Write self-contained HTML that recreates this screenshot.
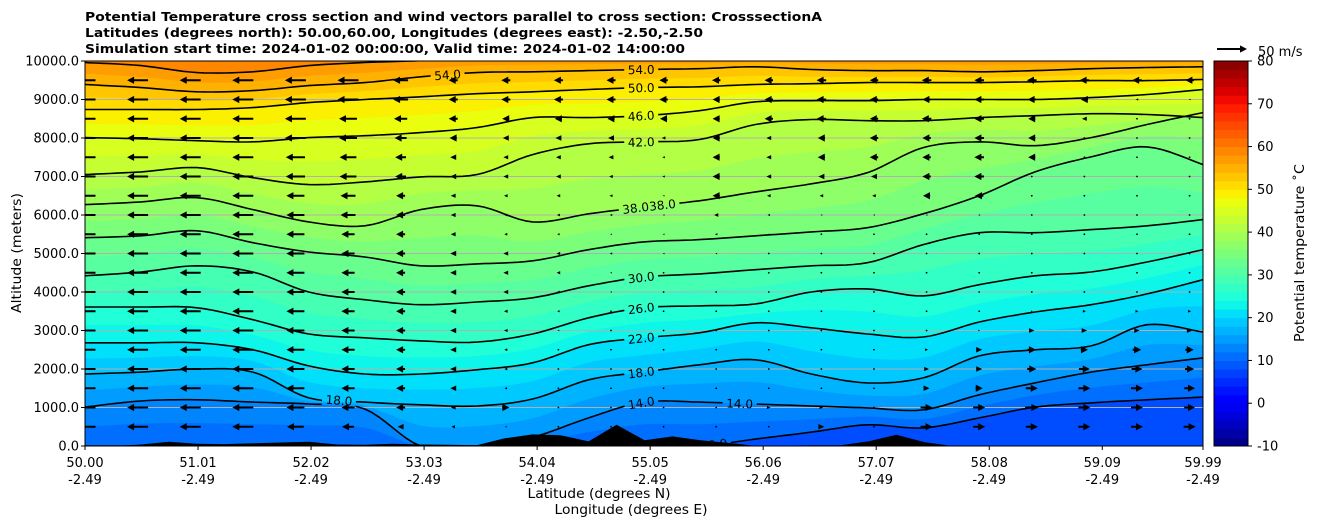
<!DOCTYPE html>
<html><head><meta charset="utf-8"><title>Potential temperature cross section</title>
<style>
html,body{margin:0;padding:0;background:#fff;}
svg{display:block;font-family:"DejaVu Sans","Liberation Sans",sans-serif;}
</style></head>
<body>
<svg id="chart" xmlns="http://www.w3.org/2000/svg" width="1320" height="526" viewBox="0 0 1320 526">
  <defs>
    <clipPath id="plotClip"><rect x="85" y="61" width="1118" height="385"/></clipPath>
    <mask id="labelMask" maskUnits="userSpaceOnUse" x="0" y="0" width="1320" height="526">
      <rect x="0" y="0" width="1320" height="526" fill="#fff"/>
      <g id="maskHoles"></g>
    </mask>
  </defs>
  <g font-weight="bold" font-size="12.5" fill="#000">
    <text x="85" y="21" textLength="737" lengthAdjust="spacingAndGlyphs">Potential Temperature cross section and wind vectors parallel to cross section: CrosssectionA</text>
    <text x="85" y="37" textLength="618" lengthAdjust="spacingAndGlyphs">Latitudes (degrees north): 50.00,60.00, Longitudes (degrees east): -2.50,-2.50</text>
    <text x="85" y="53" textLength="600" lengthAdjust="spacingAndGlyphs">Simulation start time: 2024-01-02 00:00:00, Valid time: 2024-01-02 14:00:00</text>
  </g>
  <g id="plot" clip-path="url(#plotClip)">
    <g id="fills"></g>
    <g id="grid"></g>
    <g id="contours" mask="url(#labelMask)"></g>
    <g id="terrain"></g>
    <g id="arrows"></g>
    <g id="clabels"></g>
  </g>
  <rect x="85" y="61" width="1118" height="385" fill="none" stroke="#000" stroke-width="1"/>
  <g id="yaxis" font-size="13"></g>
  <g id="xaxis" font-size="13"></g>
  <text font-size="13" text-anchor="middle" transform="translate(21,253) rotate(-90)" textLength="120" lengthAdjust="spacingAndGlyphs">Altitude (meters)</text>
  <text font-size="13" text-anchor="middle" x="599" y="498" textLength="143" lengthAdjust="spacingAndGlyphs">Latitude (degrees N)</text>
  <text font-size="13" text-anchor="middle" x="631" y="514" textLength="153" lengthAdjust="spacingAndGlyphs">Longitude (degrees E)</text>
  <g id="cbar" font-size="13"></g>
  <text font-size="13" text-anchor="middle" transform="translate(1304,253) rotate(-90)" textLength="178" lengthAdjust="spacingAndGlyphs">Potential temperature ˚C</text>
  <g id="qkey">
    <text font-size="13" x="1258" y="56">50 m/s</text>
  </g>
</svg>
<script>
// ---------- data ----------
const gridLats = [50.00,50.50,51.00,51.50,52.00,52.50,53.00,53.50,54.00,54.50,54.99,55.49,55.99,56.49,56.99,57.49,57.99,58.49,58.99,59.49,59.99];
const contourLevels = [10,14,18,22,26,30,34,38,42,46,50,54,58];
const alt10 = [0,0,0,0,0,0,0,0,0,0,0,0,180,360,550,470,730,1010,1120,1200,1270];
const alt14 = [1010,1170,1200,1140,1090,960,0,0,230,730,1140,1140,1090,1040,990,940,1330,1640,1920,2110,2290];
const alt18 = [1870,1920,2000,1920,1250,1140,1070,1040,1220,1720,1920,2110,2240,1870,1640,1770,2340,2500,2600,3150,2960];
const alt22 = [2680,2680,2680,2500,2080,1870,1870,1980,2160,2630,2810,2940,3200,3070,2910,2830,3220,3480,3670,3950,4320];
const alt26 = [3610,3610,3590,3280,2910,2810,2730,2700,2910,3330,3590,3640,3690,4000,4080,3900,4190,4420,4520,4780,5100];
const alt30 = [4420,4520,4680,4520,4000,3800,3670,3740,3850,4160,4390,4470,4580,4680,4760,5230,5540,5540,5620,5720,5880];
const alt34 = [5410,5460,5590,5280,5040,4910,4680,4730,4810,5100,5300,5360,5460,5560,5670,6030,6500,7120,7510,7770,7310];
const alt38 = [6270,6340,6450,6140,5820,5720,6140,6240,5820,6030,6210,6370,6600,6810,7100,7750,7900,7800,8010,8350,8660];
const alt42 = [7050,7120,7230,6970,6790,6860,6990,7050,7570,7850,7900,7960,8350,8480,8450,8450,8530,8580,8630,8610,8530];
const alt46 = [8010,7980,7930,7900,8010,8060,8140,8270,8530,8530,8580,8710,8940,8970,8970,9000,9000,9000,9050,9130,9260];
const alt50 = [8740,8740,8740,8790,8920,9000,9070,9150,9200,9260,9310,9330,9390,9410,9440,9440,9440,9460,9490,9490,9520];
const alt54 = [9390,9310,9200,9230,9360,9440,9590,9700,9720,9750,9780,9800,9850,9780,9750,9750,9720,9750,9800,9830,9850];
const alt58 = [9960,9880,9700,9720,9880,9960,10010,10080,10100,10100,10100,10100,10100,10100,10100,10100,10100,10100,10100,10100,10100];
const contourAlts = [alt10,alt14,alt18,alt22,alt26,alt30,alt34,alt38,alt42,alt46,alt50,alt54,alt58];

const terrainLats = [50.00,50.25,50.50,50.75,51.00,51.25,51.50,51.75,52.00,52.25,52.50,52.75,53.00,53.25,53.50,53.75,54.00,54.25,54.50,54.75,55.00,55.25,55.50,55.75,56.00,56.25,56.50,56.75,57.00,57.25,57.50,57.75,58.00,58.25,58.50,58.75,59.00,59.25,59.50,59.75,59.99];
const terrainAlt = [0,0,40,110,60,50,70,90,110,40,30,60,40,30,20,200,300,280,120,550,150,250,150,80,0,10,20,20,120,290,100,0,0,0,0,0,0,0,0,0,0];

const windLats = [50.00,50.47,50.94,51.41,51.88,52.35,52.82,53.29,53.76,54.23,54.70,55.17,55.64,56.11,56.58,57.05,57.52,57.99,58.46,58.93,59.40,59.87];
const windAlts = [9500,9000,8500,8000,7500,7000,6500,6000,5500,5000,4500,4000,3500,3000,2500,2000,1500,1000,500];
const u9500 = [-35,-35,-35,-35,-35,-35,-25,-15,-15,-15,-15,-14,-14,-14,-16,-14,-16,-16,-16,-16,-16,-14];
const u9000 = [-35,-35,-35,-35,-35,-35,-25,-15,-15,-15,-15,-14,-12,-14,-16,-14,-14,-16,-14,-12,-4,-3];
const u8500 = [-35,-35,-35,-35,-35,-30,-22,-15,-12,-12,-12,-12,-12,-14,-16,-14,-16,-16,-12,-8,-1,-1];
const u8000 = [-35,-35,-35,-35,-35,-30,-20,-12,-10,-10,-10,-6,-12,-8,-12,-14,-14,-16,-12,-1,-1,-1];
const u7500 = [-35,-35,-35,-35,-32,-28,-18,-10,-8,-8,-8,-4,-12,-8,-12,-14,-14,-16,-12,-1,-1,-1];
const u7000 = [-35,-35,-35,-35,-32,-28,-18,-10,-8,-8,-6,-4,-12,-8,-10,-10,-14,-16,-1,-1,-1,-1];
const u6500 = [-35,-35,-35,-35,-30,-25,-15,-8,-6,-6,-5,-3,-12,-6,-6,-6,-12,-14,-1,-1,-1,-1];
const u6000 = [-35,-35,-35,-35,-30,-25,-15,-8,-5,-5,-4,-3,-7,-4,-3,-3,-3,-3,-1,0,0,0];
const u5500 = [-35,-35,-35,-35,-30,-22,-15,-8,-5,-4,-3,-3,-4,-3,-2,-2,-1,-1,0,0,0,0];
const u5000 = [-35,-35,-35,-35,-30,-22,-15,-10,-8,-6,-4,-3,-3,-2,-1,-1,0,0,0,0,0,0];
const u4500 = [-35,-35,-35,-35,-30,-22,-15,-10,-8,-6,-3,-2,-2,-1,0,0,0,0,0,0,0,0];
const u4000 = [-35,-35,-35,-35,-30,-22,-15,-10,-8,-5,-3,-1,-1,0,0,0,0,0,0,0,0,0];
const u3500 = [-35,-35,-35,-35,-30,-22,-15,-10,-6,-4,-2,-1,0,0,0,0,0,0,3,5,5,5];
const u3000 = [-35,-35,-35,-35,-30,-22,-15,-10,-6,-3,-1,0,0,0,0,0,0,3,9,9,9,9];
const u2500 = [-35,-35,-35,-35,-30,-22,-15,-10,-5,-2,0,0,0,0,0,0,5,10,14,12,14,14];
const u2000 = [-35,-35,-35,-35,-30,-22,-15,-10,-5,-1,0,0,0,0,0,0,8,10,15,18,18,15];
const u1500 = [-35,-35,-35,-35,-30,-22,-15,-10,-4,0,0,0,0,0,0,0,10,12,20,20,20,18];
const u1000 = [-35,-35,-35,-35,-30,-22,-15,-8,12,2,0,0,0,6,6,0,20,20,22,20,20,18];
const u500 = [-35,-35,-35,-35,-28,-20,-10,-6,-3,0,0,0,0,0,10,0,20,20,20,20,20,20];
const windU = [u9500,u9000,u8500,u8000,u7500,u7000,u6500,u6000,u5500,u5000,u4500,u4000,u3500,u3000,u2500,u2000,u1500,u1000,u500];

const labelLevels = [54,54,50,46,42,38,38,30,26,22,18,14,18,14,10];
const labelLats = [53.24,54.97,54.97,54.97,54.97,54.92,55.16,54.97,54.97,54.97,54.97,54.97,52.27,55.85,55.62];

const yTicks = [0,1000,2000,3000,4000,5000,6000,7000,8000,9000,10000];
const xTickLats = [50.00,51.01,52.02,53.03,54.04,55.05,56.06,57.07,58.08,59.09,59.99];
const xTickLons = ["-2.49","-2.49","-2.49","-2.49","-2.49","-2.49","-2.49","-2.49","-2.49","-2.49","-2.49"];
const cbTicks = [-10,0,10,20,30,40,50,60,70,80];
const keySpeed = 50;

// ---------- scales ----------
const X0=85, X1=1203, Y0=446, Y1=61, LAT0=50, LAT1=59.99, ALT1=10000, VMIN=-10, VMAX=80;
const xOf = lat => X0 + (lat-LAT0)/(LAT1-LAT0)*(X1-X0);
const yOf = alt => Y0 - alt/ALT1*(Y0-Y1);
const PX_PER_MS = 30/keySpeed;
const NS="http://www.w3.org/2000/svg";
function mk(tag, attrs, parent){const e=document.createElementNS(NS,tag);for(const k in attrs)e.setAttribute(k,attrs[k]);if(parent)parent.appendChild(e);return e;}

function interp(t, stops){
  for(let i=1;i<stops.length;i++){ if(t<=stops[i][0]){const a=stops[i-1],b=stops[i];return a[1]+(b[1]-a[1])*(t-a[0])/(b[0]-a[0]);}}
  return stops[stops.length-1][1];
}
function jet(v){
  let t=(v-VMIN)/(VMAX-VMIN); t=Math.max(0,Math.min(1,t));
  const r=interp(t,[[0,0],[0.35,0],[0.66,1],[0.89,1],[1,0.5]]);
  const g=interp(t,[[0,0],[0.125,0],[0.375,1],[0.64,1],[0.91,0],[1,0]]);
  const b=interp(t,[[0,0.5],[0.11,1],[0.34,1],[0.65,0],[1,0]]);
  return `rgb(${Math.round(r*255)},${Math.round(g*255)},${Math.round(b*255)})`;
}
function smoothPts(xs, ys){
  const out=[];
  for(let i=0;i<xs.length-1;i++){
    const x0=xs[Math.max(0,i-1)],y0=ys[Math.max(0,i-1)],x1=xs[i],y1=ys[i],x2=xs[i+1],y2=ys[i+1],x3=xs[Math.min(xs.length-1,i+2)],y3=ys[Math.min(xs.length-1,i+2)];
    for(let s=0;s<8;s++){const t=s/8,t2=t*t,t3=t2*t;
      out.push([0.5*((2*x1)+(-x0+x2)*t+(2*x0-5*x1+4*x2-x3)*t2+(-x0+3*x1-3*x2+x3)*t3),
                0.5*((2*y1)+(-y0+y2)*t+(2*y0-5*y1+4*y2-y3)*t2+(-y0+3*y1-3*y2+y3)*t3)]);}
  }
  out.push([xs[xs.length-1],ys[ys.length-1]]);
  return out;
}
const gx = gridLats.map(xOf);
function curveFor(alts){ return smoothPts(gx, alts.map(a=>yOf(Math.max(0,a)))); }
function altAt(alts, lat){
  for(let i=1;i<gridLats.length;i++){ if(lat<=gridLats[i]){const f=(lat-gridLats[i-1])/(gridLats[i]-gridLats[i-1]);return alts[i-1]+(alts[i]-alts[i-1])*f;}}
  return alts[alts.length-1];
}

// ---------- fills ----------
const fills=document.getElementById('fills');
const base=mk('rect',{x:X0,y:Y1,width:X1-X0,height:Y0-Y1,fill:jet(8)},fills);


for(let v=10; v<=60; v+=2){
  let alts;
  if(v>=58){ alts = contourAlts[12].map(a=>a+(v-58)*150); }
  else { const k=Math.floor((v-10)/4), t=((v-10)%4)/4; const A=contourAlts[k],B=contourAlts[k+1]; alts=A.map((a,i)=>a+t*(B[i]-a)); }
  const pts=curveFor(alts);
  const d='M'+pts.map(p=>p[0].toFixed(1)+','+p[1].toFixed(1)).join(' L')+` L${X1},30 L${X0},30 Z`;
  const p=mk('path',{d:d,fill:jet(v+1),stroke:jet(v+1),'stroke-width':0.4},fills);
  
  
}

// ---------- grid ----------
const grid=document.getElementById('grid');
yTicks.forEach(a=>{ if(a>0&&a<ALT1){
  const l=mk('line',{x1:X0,x2:X1,y1:yOf(a),y2:yOf(a),stroke:'#b0b0b0','stroke-width':1},grid);
  
  
}});

// ---------- contour lines ----------
const cg=document.getElementById('contours');
contourAlts.forEach((alts,k)=>{
  const pts=curveFor(alts);
  const p=mk('path',{d:'M'+pts.map(q=>q[0].toFixed(1)+','+q[1].toFixed(1)).join(' L'),fill:'none',stroke:'#000','stroke-width':1.6,'stroke-linejoin':'round'},cg);
  
  
});

// ---------- contour labels ----------
const lg=document.getElementById('clabels'), holes=document.getElementById('maskHoles');
labelLevels.forEach((lev,i)=>{
  const k=contourLevels.indexOf(lev), alts=contourAlts[k], lat=labelLats[i];
  const x=xOf(lat), y=yOf(Math.max(0,altAt(alts,lat)));
  const yA=yOf(Math.max(0,altAt(alts,lat-0.15))), yB=yOf(Math.max(0,altAt(alts,lat+0.15)));
  let ang=Math.atan2(yB-yA, xOf(lat+0.15)-xOf(lat-0.15))*180/Math.PI; ang=Math.max(-35,Math.min(35,ang));
  mk('rect',{x:x-17,y:y-6,width:34,height:12,fill:'#000',transform:`rotate(${ang.toFixed(1)},${x},${y})`},holes);
  const t=mk('text',{x:x,y:y+4.5,'text-anchor':'middle','font-size':12,fill:'#000',transform:`rotate(${ang.toFixed(1)},${x},${y})`},lg);
  t.textContent=lev.toFixed(1);
  
  
});

// ---------- terrain ----------
const tg=document.getElementById('terrain');
{
  const d='M'+X0+','+Y0+' '+terrainLats.map((la,i)=>'L'+xOf(la).toFixed(1)+','+yOf(terrainAlt[i]).toFixed(1)).join(' ')+` L${X1},${Y0} Z`;
  const p=mk('path',{d:d,fill:'#000'},tg);
  
  
}

// ---------- wind arrows (pivot middle) ----------
const ag=document.getElementById('arrows');
function arrowPath(cx, cy, u){
  const L=Math.abs(u)*PX_PER_MS, dir=u<0?-1:1;
  if(L<1.5) return null;
  const tail=cx-dir*L/2, tip=cx+dir*L/2;
  if(L<7){ const hw=L*0.45; return `M${tip},${cy} L${tail},${cy-hw} L${tail},${cy+hw} Z`; }
  const hl=7, hw=3.6, sw=1.0, hb=tip-dir*hl;
  return `M${tail},${cy-sw} L${hb},${cy-sw} L${hb},${cy-hw} L${tip},${cy} L${hb},${cy+hw} L${hb},${cy+sw} L${tail},${cy+sw} Z`;
}
windU.forEach((row,r)=>{
  row.forEach((u,c)=>{
    const cx=xOf(windLats[c]), cy=yOf(windAlts[r]);
    const d=arrowPath(cx,cy,u);
    let el;
    if(d){ el=mk('path',{d:d,fill:'#000'},ag); }
    else { el=mk('circle',{cx:cx,cy:cy,r:0.9,fill:'#000'},ag); }
    
    
  });
});

// ---------- axes ----------
const ya=document.getElementById('yaxis');
yTicks.forEach(a=>{
  const y=yOf(a);
  const tk=mk('line',{x1:X0-4,x2:X0,y1:y,y2:y,stroke:'#000','stroke-width':1},ya);
  
  
  const t=mk('text',{x:X0-6,y:y+4.5,'text-anchor':'end'},ya);
  t.textContent=a.toFixed(1);
  
  
});
const xa=document.getElementById('xaxis');
xTickLats.forEach((la,i)=>{
  const x=xOf(la);
  const tk=mk('line',{x1:x,x2:x,y1:Y0,y2:Y0+4,stroke:'#000','stroke-width':1},xa);
  
  
  const t=mk('text',{x:x,y:467,'text-anchor':'middle'},xa);
  t.textContent=la.toFixed(2);
  
  
  const t2=mk('text',{x:x,y:484,'text-anchor':'middle'},xa);
  t2.textContent=xTickLons[i];
  
  
});

// ---------- colorbar ----------
const cb=document.getElementById('cbar');
const CBX=1214, CBW=34;
const cy=v=>Y0-(v-VMIN)/(VMAX-VMIN)*(Y0-Y1);
for(let v=VMIN; v<VMAX; v+=2){
  const r=mk('rect',{x:CBX,y:cy(v+2),width:CBW,height:cy(v)-cy(v+2)+0.5,fill:jet(v+1)},cb);
  
  
}
const cbf=mk('rect',{x:CBX,y:Y1,width:CBW,height:Y0-Y1,fill:'none',stroke:'#000','stroke-width':1},cb);


cbTicks.forEach(v=>{
  const y=cy(v);
  const tk=mk('line',{x1:CBX+CBW,x2:CBX+CBW+4,y1:y,y2:y,stroke:'#000'},cb);
  
  
  const t=mk('text',{x:CBX+CBW+9,y:y+4.5},cb);
  t.textContent=String(v);
  
  
});

// ---------- quiver key ----------
const qk=document.getElementById('qkey');
{
  const L=keySpeed*PX_PER_MS, x0=1217, y=49;
  const d=`M${x0},${y-1} L${x0+L-7},${y-1} L${x0+L-7},${y-3.6} L${x0+L},${y} L${x0+L-7},${y+3.6} L${x0+L-7},${y+1} L${x0},${y+1} Z`;
  const p=mk('path',{d:d,fill:'#000'},qk);
  
  
}
</script>
</body></html>
